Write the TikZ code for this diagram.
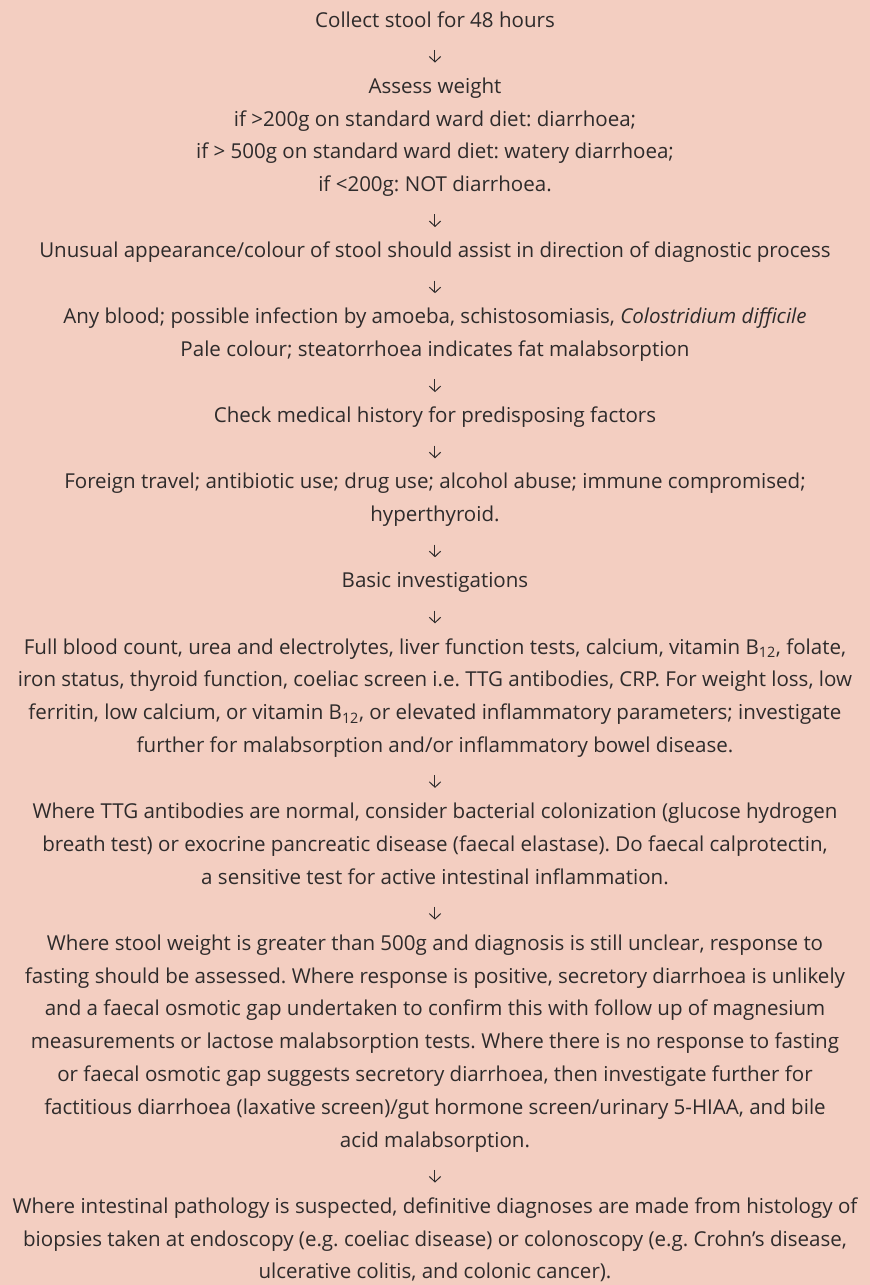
\documentclass[tikz,border=0pt]{standalone}
\usepackage{fontspec}
\setmainfont{Open Sans}
\frenchspacing
\usepackage{tikz}
\usetikzlibrary{positioning, arrows.meta}

\definecolor{paper}{HTML}{F3CEC1}
\definecolor{ink}{HTML}{2E2B2B}

\newcommand{\linestrut}{\rule[-7.4pt]{0pt}{24.6pt}}

\tikzset{
    stage/.style={align=center, inner sep=0pt, text=ink,
        font=\fontsize{15.4}{24.6}\selectfont,
        execute at end node=\linestrut},
    flowarrow/.style={draw=ink, line width=0.75pt, shorten <=9.5pt, shorten >=5.6pt,
        -{Straight Barb[length=4pt, width=8.5pt]}}
}

\begin{document}
\begin{tikzpicture}[node distance=24.6pt]
    % page and background
    \fill[paper] (-326.25pt, 0pt) rectangle (326.25pt, -963.75pt);
    \useasboundingbox (-326.25pt, 0pt) rectangle (326.25pt, -963.75pt);

    \node[stage, anchor=north] (collect) at (0, -2.9pt) {\linestrut Collect stool for 48 hours};
    \node[stage, below=of collect] (weight) {\linestrut
        Assess weight\\
        if >200g on standard ward diet: diarrhoea;\\
        if > 500g on standard ward diet: watery diarrhoea;\\
        if <200g: NOT diarrhoea.};
    \node[stage, below=of weight] (look) {\linestrut Unusual appearance/colour of stool should assist in direction of diagnostic process};
    \node[stage, below=of look] (blood) {\linestrut
        Any blood; possible infection by amoeba, schistosomiasis, \textit{Colostridium difficile}\\
        Pale colour; steatorrhoea indicates fat malabsorption};
    \node[stage, below=of blood] (history) {\linestrut Check medical history for predisposing factors};
    \node[stage, below=of history] (factors) {\linestrut
        Foreign travel; antibiotic use; drug use; alcohol abuse; immune compromised;\\
        hyperthyroid.};
    \node[stage, below=of factors] (basic) {\linestrut Basic investigations};
    \node[stage, below=of basic] (bloods) {\linestrut
        Full blood count, urea and electrolytes, liver function tests, calcium, vitamin B\textsubscript{12}, folate,\\
        iron status, thyroid function, coeliac screen i.e. TTG antibodies, CRP. For weight loss, low\\
        ferritin, low calcium, or vitamin B\textsubscript{12}, or elevated inflammatory parameters; investigate\\
        further for malabsorption and/or inflammatory bowel disease.};
    \node[stage, below=of bloods] (ttg) {\linestrut
        Where TTG antibodies are normal, consider bacterial colonization (glucose hydrogen\\
        breath test) or exocrine pancreatic disease (faecal elastase). Do faecal calprotectin,\\
        a sensitive test for active intestinal inflammation.};
    \node[stage, below=of ttg] (fasting) {\linestrut
        Where stool weight is greater than 500g and diagnosis is still unclear, response to\\
        fasting should be assessed. Where response is positive, secretory diarrhoea is unlikely\\
        and a faecal osmotic gap undertaken to confirm this with follow up of magnesium\\
        measurements or lactose malabsorption tests. Where there is no response to fasting\\
        or faecal osmotic gap suggests secretory diarrhoea, then investigate further for\\
        factitious diarrhoea (laxative screen)/gut hormone screen/urinary 5-HIAA, and bile\\
        acid malabsorption.};
    \node[stage, below=of fasting] (biopsy) {\linestrut
        Where intestinal pathology is suspected, definitive diagnoses are made from histology of\\
        biopsies taken at endoscopy (e.g. coeliac disease) or colonoscopy (e.g. Crohn’s disease,\\
        ulcerative colitis, and colonic cancer).};

    % the downward chain
    \foreach \from/\to in {collect/weight, weight/look, look/blood, blood/history,
        history/factors, factors/basic, basic/bloods, bloods/ttg, ttg/fasting, fasting/biopsy}
        \draw[flowarrow] (\from) -- (\to);
\end{tikzpicture}
\end{document}
